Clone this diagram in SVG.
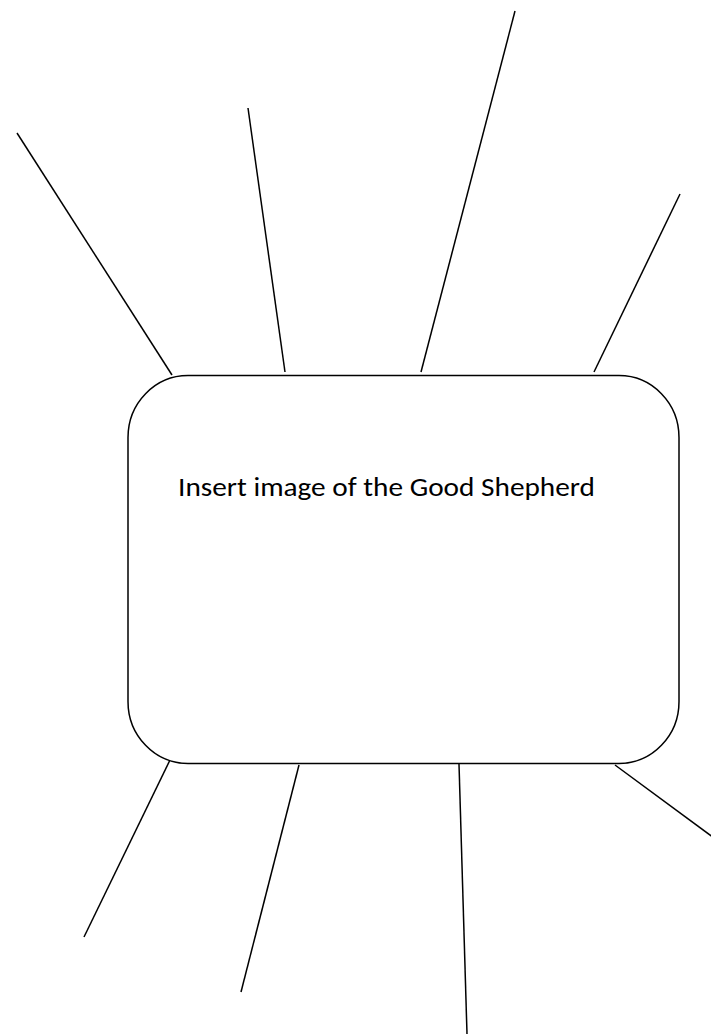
<svg xmlns="http://www.w3.org/2000/svg" width="711" height="1035" viewBox="0 0 711 1035">
  <style>
    .ln { stroke: #000; stroke-width: 1.5; fill: none; stroke-linecap: butt; }
    .box { stroke: #000; stroke-width: 1.5; fill: #fff; }
    .lbl { font-family: Carlito, "Open Sans", "Liberation Sans", sans-serif; font-size: 26px; font-weight: normal; fill: #000; }
  </style>
  <rect width="711" height="1035" fill="#fff"/>
  <g id="connectors">
    <line class="ln" x1="17" y1="133" x2="172" y2="375"/>
    <line class="ln" x1="248" y1="108" x2="285" y2="372"/>
    <line class="ln" x1="515" y1="11" x2="421" y2="372"/>
    <line class="ln" x1="680" y1="194" x2="594" y2="372"/>
    <line class="ln" x1="170" y1="760" x2="84" y2="937"/>
    <line class="ln" x1="299" y1="765" x2="241" y2="992"/>
    <line class="ln" x1="459" y1="764" x2="467" y2="1034"/>
    <line class="ln" x1="615" y1="765" x2="714" y2="838"/>
  </g>
  <g id="center">
    <rect class="box" x="128" y="375.5" width="551" height="388" rx="60" ry="62"/>
    <text class="lbl" x="178" y="496" textLength="417" lengthAdjust="spacingAndGlyphs">Insert image of the Good Shepherd</text>
  </g>
</svg>
